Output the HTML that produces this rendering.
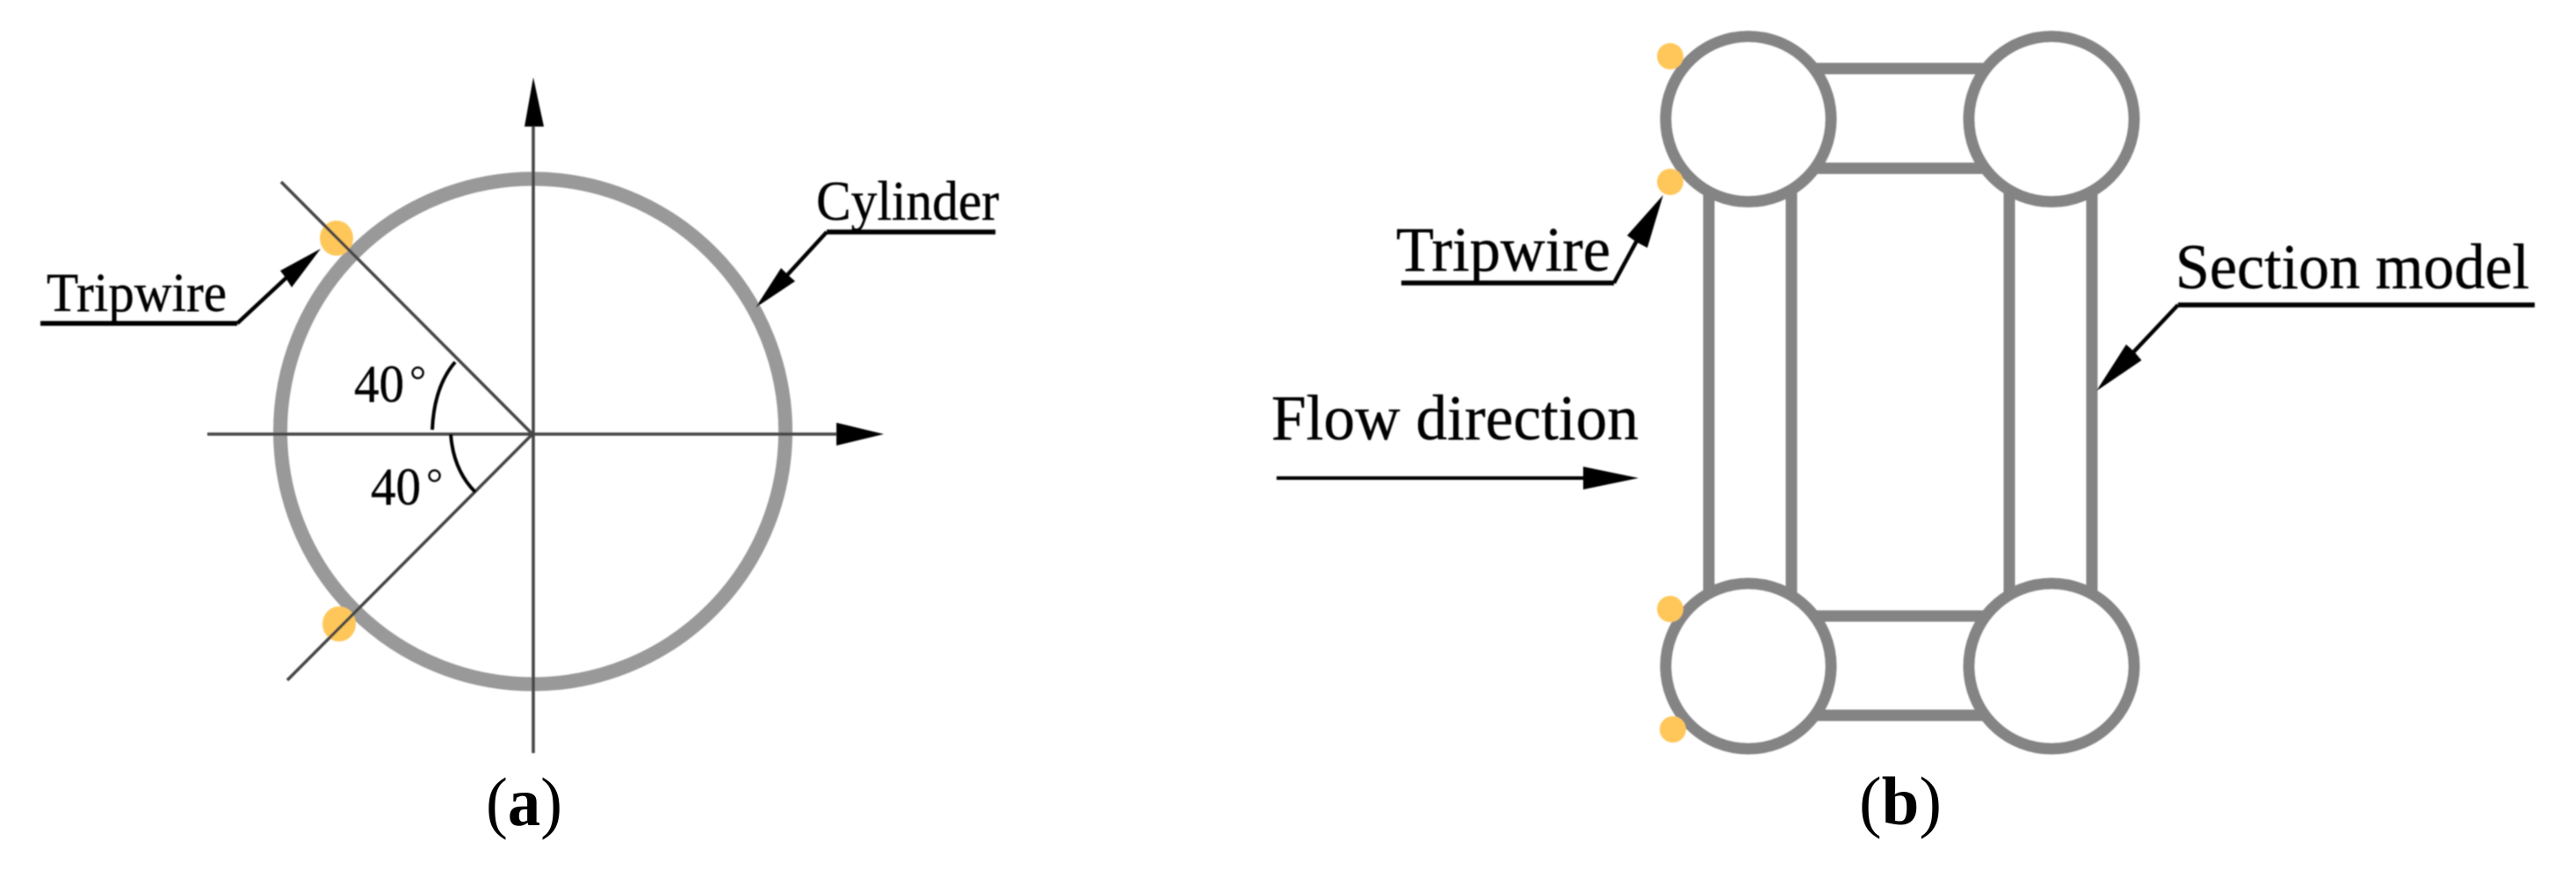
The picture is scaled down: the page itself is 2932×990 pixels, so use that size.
<!DOCTYPE html>
<html>
<head>
<meta charset="utf-8">
<style>
html,body{margin:0;padding:0;background:#fff;width:2932px;height:990px;overflow:hidden}
svg{display:block}
text{font-family:"Liberation Serif",serif;fill:#000}
.t{stroke:#000;stroke-width:.4}
</style>
</head>
<body>
<svg width="2932" height="990" viewBox="0 0 2932 990" xmlns="http://www.w3.org/2000/svg">
<defs><filter id="b" x="-5%" y="-5%" width="110%" height="110%"><feGaussianBlur stdDeviation="0.8"/></filter></defs>
<rect width="2932" height="990" fill="#fff"/>
<g filter="url(#b)">
<!-- panel a -->
<circle cx="606.5" cy="491" r="287.5" fill="none" stroke="#999" stroke-width="16"/>
<ellipse cx="383" cy="271" rx="19" ry="20" fill="#FFC75A"/>
<ellipse cx="386" cy="710" rx="19" ry="20" fill="#FFC75A"/>
<g stroke="#444" stroke-width="3.5" fill="none">
<line x1="607" y1="140" x2="607" y2="857"/>
<line x1="236" y1="494" x2="955" y2="494"/>
<line x1="320" y1="207" x2="606" y2="494"/>
<line x1="327" y1="774" x2="606" y2="494"/>
</g>
<polygon points="607,88 597,144 619,144" fill="#000"/>
<polygon points="1006,494 952,481 952,507" fill="#000"/>
<g stroke="#000" fill="none">
<path stroke-width="5.5" d="M46,368 H270"/>
<path stroke-width="4.5" d="M270,368 L327,315"/>
<path stroke-width="5.5" d="M1133,264 H941"/>
<path stroke-width="4.5" d="M941,264 L896,313"/>
<path stroke-width="4" d="M518,412 Q494,440 492,489"/>
<path stroke-width="4" d="M513,494 Q516,535 541,560"/>
</g>
<polygon points="365,283 319,308 325,316 332,327" fill="#000"/>
<polygon points="860,350 889,305 897,313 905,320" fill="#000"/>
<text class="t" x="53" y="354" font-size="62" textLength="205" lengthAdjust="spacingAndGlyphs">Tripwire</text>
<text class="t" x="929" y="250" font-size="63" textLength="208" lengthAdjust="spacingAndGlyphs">Cylinder</text>
<text class="t" x="403" y="457" font-size="60" textLength="57" lengthAdjust="spacingAndGlyphs">40</text>
<text x="466" y="449" font-size="48">°</text>
<text class="t" x="422" y="574" font-size="60" textLength="57" lengthAdjust="spacingAndGlyphs">40</text>
<text x="485" y="566" font-size="48">°</text>
<!-- panel b -->
<g stroke="#848484" fill="none">
<g stroke-width="13">
<line x1="1945" y1="215" x2="1945" y2="680"/>
<line x1="2039" y1="215" x2="2039" y2="680"/>
<line x1="2287" y1="215" x2="2287" y2="680"/>
<line x1="2381" y1="215" x2="2381" y2="680"/>
<line x1="2050" y1="78" x2="2275" y2="78"/>
<line x1="2050" y1="191.5" x2="2275" y2="191.5"/>
<line x1="2050" y1="701" x2="2275" y2="701"/>
<line x1="2050" y1="814" x2="2275" y2="814"/>
</g>
<g stroke-width="13">
<circle cx="1990" cy="135.5" r="94" fill="#fff"/>
<circle cx="2335" cy="135.5" r="94" fill="#fff"/>
<circle cx="1990" cy="758" r="94" fill="#fff"/>
<circle cx="2335" cy="758" r="94" fill="#fff"/>
</g>
</g>
<g fill="#FFC75A">
<circle cx="1901" cy="64" r="15"/>
<circle cx="1901" cy="207" r="15"/>
<circle cx="1901" cy="693" r="15"/>
<circle cx="1904" cy="830" r="15"/>
</g>
<g stroke="#000" fill="none">
<path stroke-width="5.5" d="M1595,322 H1837"/>
<path stroke-width="4.5" d="M1837,322 L1864,272"/>
<path stroke-width="5.5" d="M2885,347 H2479"/>
<path stroke-width="4.5" d="M2479,347 L2428,401"/>
<line stroke-width="4" x1="1453" y1="544" x2="1810" y2="544"/>
</g>
<polygon points="1893,222 1852,268 1862,275 1875,282" fill="#000"/>
<polygon points="2386,445 2420,392 2429,400 2437.5,410" fill="#000"/>
<polygon points="1865,544 1802,531 1802,557" fill="#000"/>
<text class="t" x="1589" y="308" font-size="72" textLength="244" lengthAdjust="spacingAndGlyphs">Tripwire</text>
<text class="t" x="1447" y="500" font-size="73" textLength="418" lengthAdjust="spacingAndGlyphs">Flow direction</text>
<text class="t" x="2476" y="328" font-size="73" textLength="403" lengthAdjust="spacingAndGlyphs">Section model</text>
</g>
<text x="553" y="939" font-size="78" textLength="87" lengthAdjust="spacingAndGlyphs">(<tspan font-weight="bold">a</tspan>)</text>
<text x="2116" y="938" font-size="78" textLength="94" lengthAdjust="spacingAndGlyphs">(<tspan font-weight="bold">b</tspan>)</text>
</svg>
</body>
</html>
